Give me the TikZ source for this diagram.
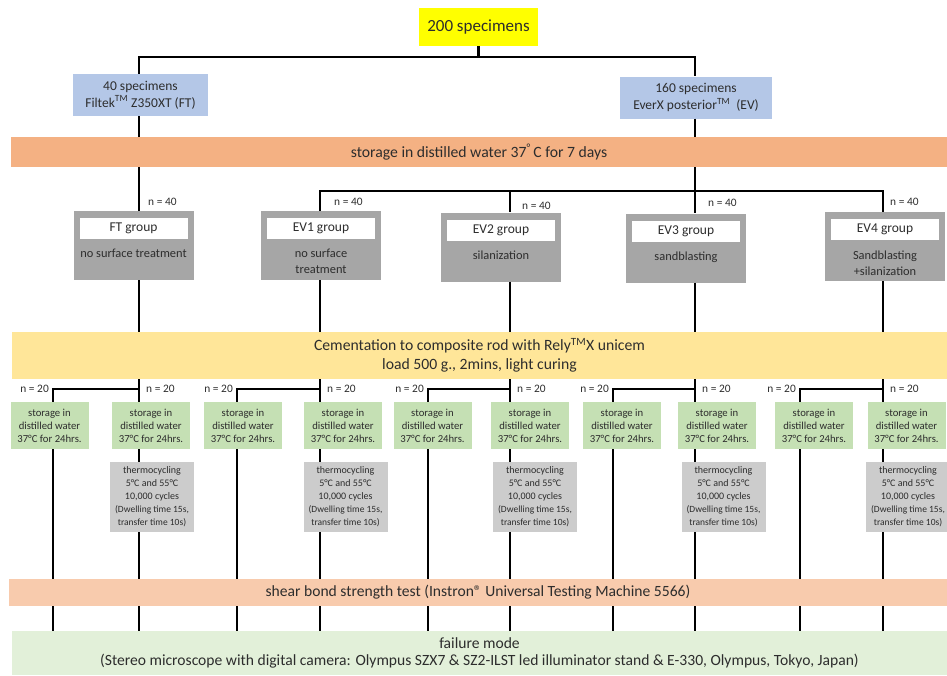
\documentclass[tikz,border=0pt]{standalone}
\usepackage{fontspec}
\setmainfont{Carlito}
\usetikzlibrary{positioning}
\definecolor{specyellow}{RGB}{255,255,0}
\definecolor{matblue}{RGB}{180,199,231}
\definecolor{bandorange}{RGB}{244,177,131}
\definecolor{grpgray}{RGB}{166,166,166}
\definecolor{cemyellow}{RGB}{255,230,153}
\definecolor{storegreen}{RGB}{197,224,180}
\definecolor{thermogray}{RGB}{204,204,204}
\definecolor{shearorange}{RGB}{248,203,173}
\definecolor{failgreen}{RGB}{226,240,217}
\definecolor{txtgray}{RGB}{45,45,45}
\tikzstyle{topbox} = [rectangle, minimum width=119pt, minimum height=38pt, fill=specyellow, font=\fontsize{17}{19}\selectfont]
\tikzstyle{matbox} = [rectangle, minimum height=42pt, align=center, fill=matblue, font=\fontsize{13.5}{17}\selectfont]
\tikzstyle{band} = [rectangle, align=center, inner sep=0pt]
\tikzstyle{grpbox} = [rectangle, minimum width=120pt, minimum height=69pt, fill=grpgray]
\tikzstyle{grptitle} = [rectangle, minimum width=108pt, minimum height=21pt, fill=white, font=\fontsize{13.5}{15}\selectfont]
\tikzstyle{grpdesc} = [align=center, inner sep=0pt, font=\fontsize{12.4}{16}\selectfont]
\tikzstyle{storebox} = [rectangle, minimum width=78pt, minimum height=47pt, inner sep=0pt, align=center, fill=storegreen, font=\fontsize{10.7}{13}\selectfont]
\tikzstyle{thermobox} = [rectangle, minimum width=84pt, minimum height=70pt, inner sep=0pt, align=center, fill=thermogray, font=\fontsize{10}{13}\selectfont]
\tikzstyle{nlabel} = [inner sep=1pt, font=\fontsize{11.4}{13}\selectfont]
\tikzstyle{conn} = [line width=2.4pt, black]
\begin{document}
\begin{tikzpicture}[x=1pt, y=-1pt]
\tikzstyle{every node}=[text=txtgray]
\useasboundingbox (0,0) rectangle (947,675);

% lanes: a = left branch, b = right branch
\foreach \i/\xa/\xb in {1/53/139, 2/237/320, 3/428/510, 4/613/695, 5/800/883}{
  \coordinate (la\i) at (\xa,389);
  \coordinate (lb\i) at (\xb,389);
}

\node (top) [topbox] at (478.5,27) {200 specimens};
\node (ft) [matbox, minimum width=135pt] at (140.5,95) {40 specimens\\Filtek\textsuperscript{TM} Z350XT (FT)};
\node (ev) [matbox, minimum width=152pt] at (696,97.5) {160 specimens\\EverX posterior\textsuperscript{TM}\ \ (EV)};

\node (store7) [band, minimum width=936pt, minimum height=30pt, fill=bandorange, font=\fontsize{15.7}{18}\selectfont] at (479,152) {storage in distilled water 37\textsuperscript{°}\,C for 7 days};
\node (cem) [band, minimum width=935pt, minimum height=47pt, fill=cemyellow, font=\fontsize{15.7}{19}\selectfont] at (479.5,355.5) {Cementation to composite rod with Rely\textsuperscript{TM}X unicem\\load 500 g., 2mins, light curing};
\node (shear) [band, minimum width=938pt, minimum height=27pt, fill=shearorange, font=\fontsize{15.6}{17}\selectfont] at (478,592.5) {shear bond strength test (Instron® Universal Testing Machine 5566)};
\node (fail) [band, minimum width=935pt, minimum height=44pt, fill=failgreen, font=\fontsize{15.6}{17}\selectfont] at (479.5,653) {failure mode\\(Stereo microscope with digital camera: Olympus SZX7 \& SZ2-ILST led illuminator stand \& E-330, Olympus, Tokyo, Japan)};

% groups
\foreach \g/\t/\cx/\cy/\nx/\ny/\desc in {ftg/FT/133.5/245.5/147/202/{no surface treatment}, ev1g/EV1/321/245.5/333/202/{no surface\\treatment}, ev2g/EV2/501/247/521/206/{silanization}, ev3g/EV3/686/248/707/203/{sandblasting}, ev4g/EV4/885/246.5/889/202/{Sandblasting\\+silanization}}{
  \node (\g) [grpbox] at (\cx,\cy) {};
  \node (\g-t) [grptitle, below=7pt of \g.north] {\t\ group};
  \node (\g-d) [grpdesc, below=10pt of \g-t] {\desc};
  \node [nlabel, anchor=west] at (\nx,\ny) {n = 40};
}

\draw[conn] (top.south) -- ([yshift=-11pt]top.south);
\draw[conn] (ft.north -| lb1) |- ([yshift=-11pt]top.south) -| (ev.north -| lb4);
\draw[conn] (ft.south -| lb1) -- (store7.north -| lb1);
\draw[conn] (ev.south -| lb4) -- (store7.north -| lb4);
\draw[conn] (store7.south -| lb1) -- (ftg.north -| lb1);
\coordinate (evsplit) at ([yshift=-24pt]store7.south -| lb4);
\draw[conn] (store7.south -| lb4) -- (evsplit);
\draw[conn] (ev1g.north -| lb2) |- (evsplit) -| (ev4g.north -| lb5);
\draw[conn] (evsplit -| lb3) -- (ev2g.north -| lb3);
\draw[conn] (evsplit) -- (ev3g.north -| lb4);
\foreach \i/\g in {1/ftg, 2/ev1g, 3/ev2g, 4/ev3g, 5/ev4g}
  \draw[conn] (\g.south -| lb\i) -- (cem.north -| lb\i);

% storage, thermocycling and the two tests
\foreach \i/\ca/\cb/\ct in {1/49.5/151/152, 2/243/343/345.5, 3/432.5/530/535, 4/622/717/723.5, 5/814/906.5/908}{
  \node (sa\i) [storebox] at (\ca,425.5) {storage in\\distilled water\\37°C for 24hrs.};
  \node (sb\i) [storebox] at (\cb,425.5) {storage in\\distilled water\\37°C for 24hrs.};
  \node (tc\i) [thermobox] at (\ct,497) {thermocycling\\5°C and 55°C\\10,000 cycles\\{\fontsize{9.5}{11.5}\selectfont (Dwelling time 15s,}\\{\fontsize{9.5}{11.5}\selectfont transfer time 10s)}};
  \node [nlabel, anchor=east] at ([xshift=-3pt]la\i) {n = 20};
  \node [nlabel, anchor=west] at ([xshift=6pt]lb\i) {n = 20};
  \draw[conn] (cem.south -| lb\i) -- (lb\i) -- (la\i) -- (sa\i.north -| la\i);
  \draw[conn] (lb\i) -- (sb\i.north -| lb\i);
  \draw[conn] (sb\i.south -| lb\i) -- (tc\i.north -| lb\i);
  \draw[conn] (sa\i.south -| la\i) -- (shear.north -| la\i);
  \draw[conn] (tc\i.south -| lb\i) -- (shear.north -| lb\i);
  \draw[conn] (shear.south -| la\i) -- (fail.north -| la\i);
  \draw[conn] (shear.south -| lb\i) -- (fail.north -| lb\i);
}
\end{tikzpicture}
\end{document}
